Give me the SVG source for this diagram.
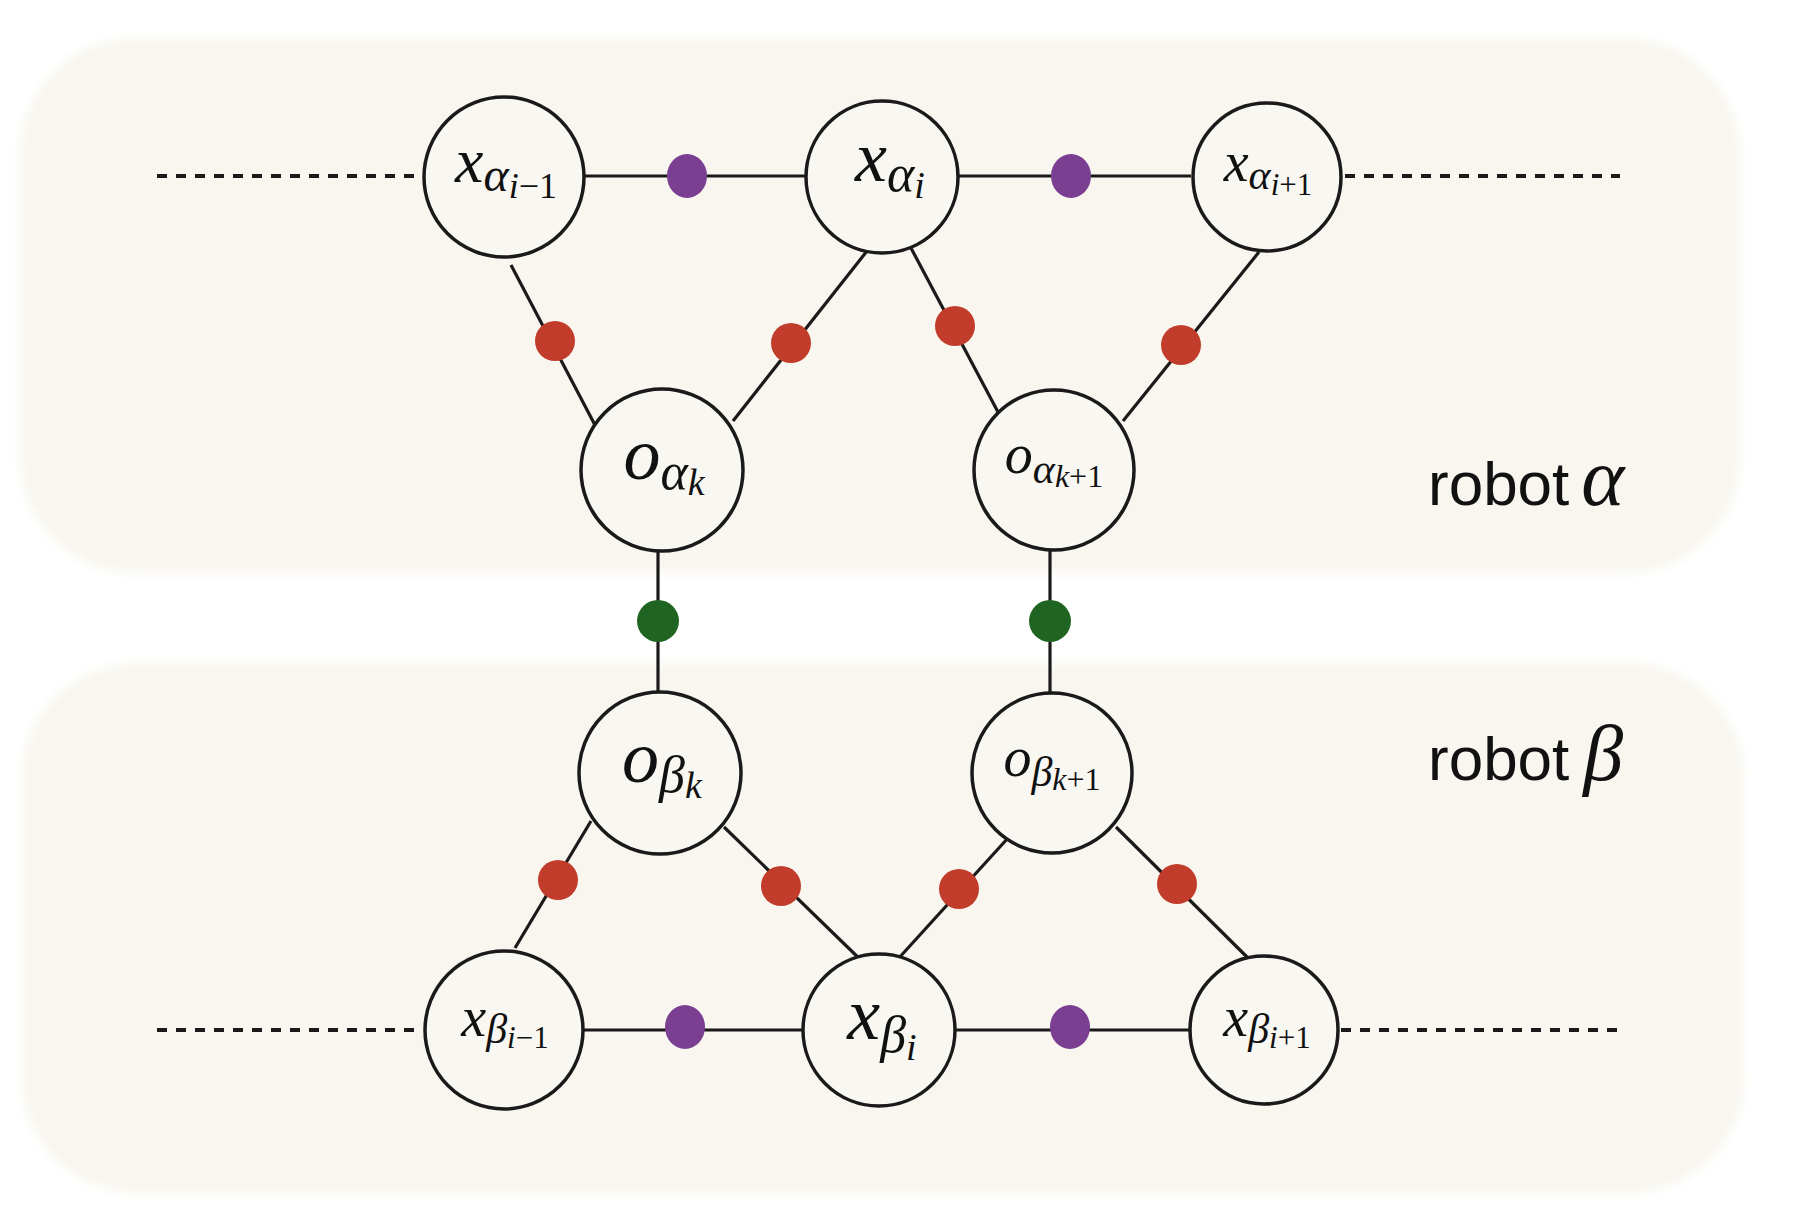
<svg xmlns="http://www.w3.org/2000/svg" width="1808" height="1228" viewBox="0 0 1808 1228">
<defs>
<filter id="soft" x="-5%" y="-5%" width="110%" height="110%"><feGaussianBlur stdDeviation="5"/></filter>
<style>
.panel{fill:#f8f6ef;}
.node{fill:#f8f7f2;stroke:#1a1a1a;stroke-width:3.5;}
.edge{stroke:#1a1a1a;stroke-width:3.2;fill:none;}
.dash{stroke:#1a1a1a;stroke-width:4;stroke-dasharray:10 9;fill:none;}
.fp{fill:#7b3f92;}
.fr{fill:#c23c2b;}
.fg{fill:#1f6521;}
.m{font-family:"Liberation Serif","DejaVu Serif",serif;font-style:italic;fill:#111;text-anchor:middle;}
.u{font-style:normal;}
.lbl{font-family:"Liberation Sans",Arial,sans-serif;font-size:62px;fill:#111;}
.gr{font-family:"Liberation Serif","DejaVu Serif",serif;font-style:italic;}
</style>
</defs>
<rect width="1808" height="1228" fill="#ffffff"/>
<g id="panels" filter="url(#soft)">
<rect class="panel" x="20" y="38" width="1720" height="535" rx="115"/>
<rect class="panel" x="22" y="663" width="1722" height="530" rx="115"/>
</g>
<g id="connectors">
<line class="dash" x1="157" y1="176" x2="421" y2="176"/>
<line class="dash" x1="1345" y1="176" x2="1620" y2="176"/>
<line class="dash" x1="157" y1="1030" x2="423" y2="1030"/>
<line class="dash" x1="1341" y1="1030" x2="1617" y2="1030"/>
<line class="edge" x1="584" y1="176" x2="806" y2="176"/>
<line class="edge" x1="958" y1="176" x2="1191" y2="176"/>
<line class="edge" x1="583" y1="1030" x2="803" y2="1030"/>
<line class="edge" x1="955" y1="1030" x2="1190" y2="1030"/>
<line class="edge" x1="511" y1="265" x2="596" y2="427"/>
<line class="edge" x1="867" y1="251" x2="733" y2="421"/>
<line class="edge" x1="911" y1="248" x2="998" y2="412"/>
<line class="edge" x1="1259" y1="252" x2="1123" y2="421"/>
<line class="edge" x1="658" y1="551" x2="658" y2="692"/>
<line class="edge" x1="1050" y1="550" x2="1050" y2="693"/>
<line class="edge" x1="591" y1="821" x2="515" y2="948"/>
<line class="edge" x1="724" y1="827" x2="867" y2="966"/>
<line class="edge" x1="1008" y1="838" x2="898" y2="959"/>
<line class="edge" x1="1116" y1="827" x2="1249" y2="959"/>
</g>
<g id="factors">
<ellipse class="fp" cx="687" cy="176" rx="20" ry="22"/>
<ellipse class="fp" cx="1071" cy="176" rx="20" ry="22"/>
<ellipse class="fp" cx="685" cy="1027" rx="20" ry="22"/>
<ellipse class="fp" cx="1070" cy="1027" rx="20" ry="22"/>
<circle class="fr" cx="555" cy="341" r="20"/>
<circle class="fr" cx="791" cy="343" r="20"/>
<circle class="fr" cx="955" cy="326" r="20"/>
<circle class="fr" cx="1181" cy="345" r="20"/>
<circle class="fr" cx="558" cy="880" r="20"/>
<circle class="fr" cx="781" cy="886" r="20"/>
<circle class="fr" cx="959" cy="889" r="20"/>
<circle class="fr" cx="1177" cy="884" r="20"/>
<circle class="fg" cx="658" cy="621" r="21"/>
<circle class="fg" cx="1050" cy="621" r="21"/>
</g>
<g id="node-xa-im1">
<circle class="node" cx="504" cy="177" r="80"/>
<text class="m" x="506" y="182"><tspan font-size="64">x</tspan><tspan font-size="48" dy="9">α</tspan><tspan font-size="36" dy="7">i</tspan><tspan font-size="36" class="u">−1</tspan></text>
</g>
<g id="node-xa-i">
<circle class="node" cx="882" cy="177" r="76"/>
<text class="m" x="890" y="181"><tspan font-size="72">x</tspan><tspan font-size="52" dy="10">α</tspan><tspan font-size="38" dy="7">i</tspan></text>
</g>
<g id="node-xa-ip1">
<circle class="node" cx="1267" cy="177" r="74"/>
<text class="m" x="1268" y="181"><tspan font-size="56">x</tspan><tspan font-size="42" dy="8">α</tspan><tspan font-size="31" dy="6">i</tspan><tspan font-size="31" class="u">+1</tspan></text>
</g>
<g id="node-oa-k">
<circle class="node" cx="662" cy="470" r="81"/>
<text class="m" x="664" y="479"><tspan font-size="74">o</tspan><tspan font-size="52" dy="10">α</tspan><tspan font-size="38" dy="6">k</tspan></text>
</g>
<g id="node-oa-k1">
<circle class="node" cx="1054" cy="470" r="80"/>
<text class="m" x="1054" y="473"><tspan font-size="56">o</tspan><tspan font-size="42" dy="10">α</tspan><tspan font-size="32" dy="4">k</tspan><tspan font-size="32" class="u">+1</tspan></text>
</g>
<g id="node-ob-k">
<circle class="node" cx="660" cy="773" r="81"/>
<text class="m" x="662" y="782"><tspan font-size="74">o</tspan><tspan font-size="52" dy="10">β</tspan><tspan font-size="38" dy="6">k</tspan></text>
</g>
<g id="node-ob-k1">
<circle class="node" cx="1052" cy="773" r="80"/>
<text class="m" x="1052" y="776"><tspan font-size="56">o</tspan><tspan font-size="42" dy="10">β</tspan><tspan font-size="32" dy="4">k</tspan><tspan font-size="32" class="u">+1</tspan></text>
</g>
<g id="node-xb-im1">
<circle class="node" cx="504" cy="1030" r="79"/>
<text class="m" x="505" y="1036"><tspan font-size="56">x</tspan><tspan font-size="42" dy="7">β</tspan><tspan font-size="31" dy="5">i</tspan><tspan font-size="31" class="u">−1</tspan></text>
</g>
<g id="node-xb-i">
<circle class="node" cx="879" cy="1030" r="76"/>
<text class="m" x="882" y="1039"><tspan font-size="74">x</tspan><tspan font-size="52" dy="13">β</tspan><tspan font-size="38" dy="8">i</tspan></text>
</g>
<g id="node-xb-ip1">
<circle class="node" cx="1264" cy="1030" r="74"/>
<text class="m" x="1267" y="1036"><tspan font-size="56">x</tspan><tspan font-size="42" dy="7">β</tspan><tspan font-size="31" dy="5">i</tspan><tspan font-size="31" class="u">+1</tspan></text>
</g>
<g id="labels">
<text class="lbl" x="1428" y="505">robot<tspan class="gr" font-size="82" dx="12">α</tspan></text>
<text class="lbl" x="1428" y="780">robot<tspan class="gr" font-size="80" dx="14">β</tspan></text>
</g>
</svg>
